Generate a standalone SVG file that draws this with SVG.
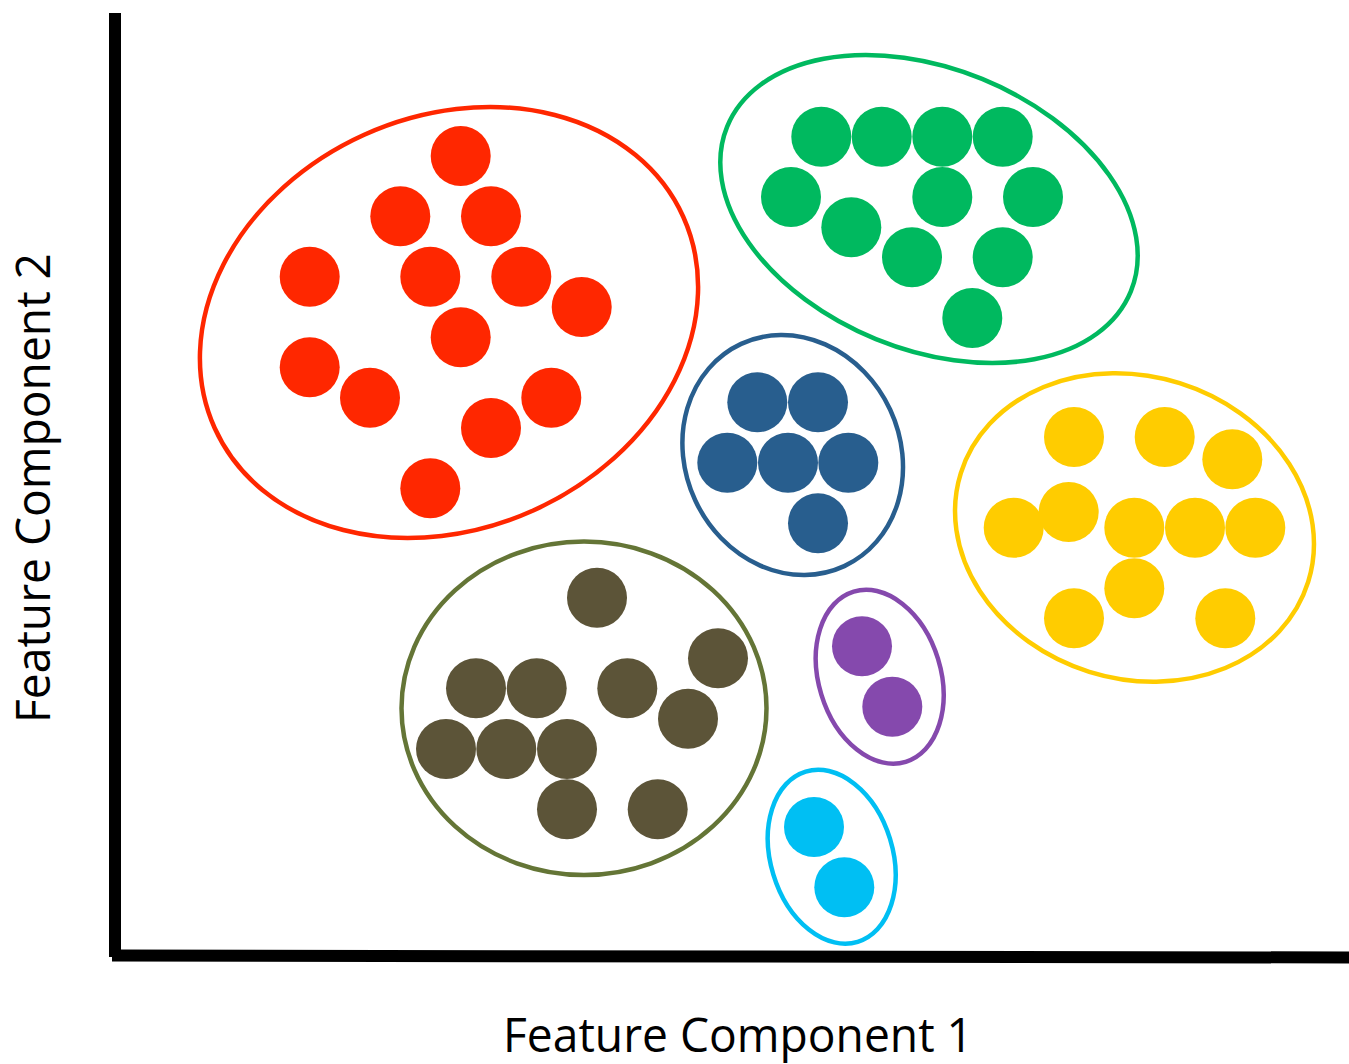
<svg xmlns="http://www.w3.org/2000/svg" width="1349" height="1064" viewBox="0 0 1349 1064">
<style>
.hull{fill:none;stroke-width:4.5}
.lbl{font-family:"Open Sans","Noto Sans","Liberation Sans",sans-serif;font-size:47px;fill:#000}
.red circle{fill:#FF2700}.red ellipse{stroke:#FF2700}
.green circle{fill:#00B95F}.green ellipse{stroke:#00B95F}
.blue circle{fill:#285E8E}.blue ellipse{stroke:#285E8E}
.yellow circle{fill:#FFCC00}.yellow ellipse{stroke:#FFCC00}
.olive circle{fill:#5C5438}.olive ellipse{stroke:#647536}
.purple circle{fill:#8549AD}.purple ellipse{stroke:#8549AD}
.cyan circle{fill:#00BFF3}.cyan ellipse{stroke:#00BFF3}
</style>
<rect width="1349" height="1064" fill="#fff"/>
<g id="axes" stroke="#000" stroke-width="12">
<line x1="115" y1="13" x2="115" y2="957"/>
<line x1="112" y1="955.5" x2="1349" y2="957.5"/>
</g>
<g id="cluster-red" class="red">
<ellipse class="hull" cx="449" cy="322.5" rx="257" ry="206" transform="rotate(-24.3 449 322.5)"/>
<circle cx="460.7" cy="156" r="30"/>
<circle cx="400.3" cy="216.3" r="30"/>
<circle cx="491" cy="216.3" r="30"/>
<circle cx="309.7" cy="276.7" r="30"/>
<circle cx="430.3" cy="276.7" r="30"/>
<circle cx="521.3" cy="276.7" r="30"/>
<circle cx="581.7" cy="307" r="30"/>
<circle cx="460.7" cy="337.3" r="30"/>
<circle cx="309.7" cy="367.3" r="30"/>
<circle cx="370" cy="397.7" r="30"/>
<circle cx="551.3" cy="397.7" r="30"/>
<circle cx="491" cy="428" r="30"/>
<circle cx="430.3" cy="488.3" r="30"/>
</g>
<g id="cluster-green" class="green">
<ellipse class="hull" cx="929" cy="209" rx="218" ry="140.5" transform="rotate(22.2 929 209)"/>
<circle cx="821.3" cy="136.7" r="30"/>
<circle cx="881.7" cy="136.7" r="30"/>
<circle cx="942.3" cy="136.7" r="30"/>
<circle cx="1002.7" cy="136.7" r="30"/>
<circle cx="791" cy="197" r="30"/>
<circle cx="942.3" cy="197" r="30"/>
<circle cx="1033" cy="197" r="30"/>
<circle cx="851.3" cy="227.3" r="30"/>
<circle cx="912" cy="257.3" r="30"/>
<circle cx="1002.7" cy="257.3" r="30"/>
<circle cx="972.3" cy="318" r="30"/>
</g>
<g id="cluster-blue" class="blue">
<ellipse class="hull" cx="792.7" cy="455" rx="107.5" ry="122.5" transform="rotate(-24.9 792.7 455)"/>
<circle cx="757.3" cy="402.3" r="30"/>
<circle cx="818" cy="402.3" r="30"/>
<circle cx="727.3" cy="462.7" r="30"/>
<circle cx="788" cy="462.7" r="30"/>
<circle cx="848.3" cy="462.7" r="30"/>
<circle cx="818" cy="523.3" r="30"/>
</g>
<g id="cluster-yellow" class="yellow">
<ellipse class="hull" cx="1134.5" cy="527.5" rx="182" ry="151.2" transform="rotate(17.4 1134.5 527.5)"/>
<circle cx="1074" cy="437" r="30"/>
<circle cx="1164.7" cy="437" r="30"/>
<circle cx="1232.3" cy="459.3" r="30"/>
<circle cx="1013.7" cy="527.7" r="30"/>
<circle cx="1068.7" cy="512" r="30"/>
<circle cx="1134.3" cy="527.7" r="30"/>
<circle cx="1195" cy="527.7" r="30"/>
<circle cx="1255.3" cy="527.7" r="30"/>
<circle cx="1134.3" cy="588.3" r="30"/>
<circle cx="1074" cy="618.3" r="30"/>
<circle cx="1225.3" cy="618.3" r="30"/>
</g>
<g id="cluster-olive" class="olive">
<ellipse class="hull" cx="584" cy="708.3" rx="182.5" ry="166.7"/>
<circle cx="597" cy="597.7" r="30"/>
<circle cx="718" cy="658.3" r="30"/>
<circle cx="476" cy="688.3" r="30"/>
<circle cx="536.7" cy="688.3" r="30"/>
<circle cx="627.3" cy="688.3" r="30"/>
<circle cx="688" cy="718.7" r="30"/>
<circle cx="446" cy="749" r="30"/>
<circle cx="506.3" cy="749" r="30"/>
<circle cx="567" cy="749" r="30"/>
<circle cx="567" cy="809.3" r="30"/>
<circle cx="657.7" cy="809.3" r="30"/>
</g>
<g id="cluster-purple" class="purple">
<ellipse class="hull" cx="879.7" cy="676.7" rx="61" ry="89" transform="rotate(-17 879.7 676.7)"/>
<circle cx="862" cy="646.3" r="30"/>
<circle cx="892.3" cy="706.7" r="30"/>
</g>
<g id="cluster-cyan" class="cyan">
<ellipse class="hull" cx="831.7" cy="856.7" rx="61" ry="89" transform="rotate(-17 831.7 856.7)"/>
<circle cx="814" cy="827" r="30"/>
<circle cx="844.3" cy="887.3" r="30"/>
</g>
<g id="labels">
<text class="lbl" x="738" y="1052" text-anchor="middle" textLength="470" lengthAdjust="spacingAndGlyphs">Feature Component 1</text>
<text class="lbl" transform="translate(50 488) rotate(-90)" x="0" y="0" text-anchor="middle" textLength="470" lengthAdjust="spacingAndGlyphs">Feature Component 2</text>
</g>
</svg>
